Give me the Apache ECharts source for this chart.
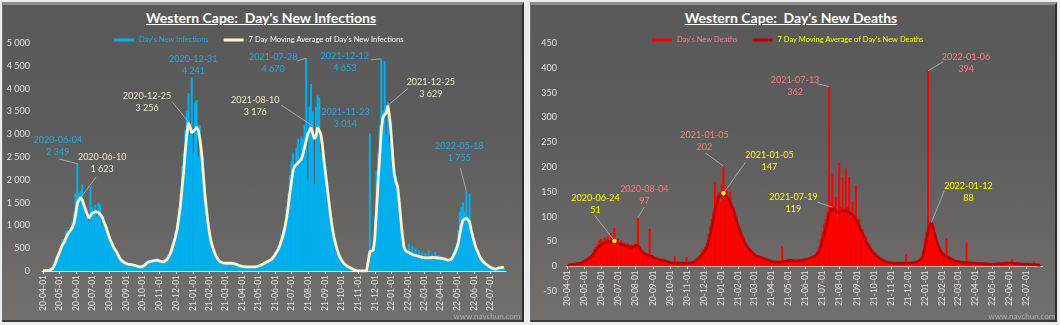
<!DOCTYPE html>
<html><head><meta charset="utf-8">
<script src="https://cdn.jsdelivr.net/npm/echarts@6/dist/echarts.min.js"></script>
<style>
html,body{margin:0;padding:0;width:1060px;height:325px;background:#ececec;overflow:hidden;font-family:Lato,sans-serif}
.panel{position:absolute;top:2px;height:320px;box-sizing:border-box;background:linear-gradient(#595959,#5c5c5c 40%,#736f6d);border-top:3px solid #8e8e8e;border-left:1px solid #707070;border-right:2px solid #2e2e2e;border-bottom:2px solid #383838}
.chart{position:absolute;top:2px;height:320px}
.title{position:absolute;top:9px;color:#fff;font:bold 14px Lato,sans-serif;text-decoration:underline;white-space:pre;text-align:center}
</style></head>
<body>
<div class="panel" style="left:2px;width:522px"></div>
<div class="panel" style="left:530px;width:527px"></div>
<div class="title" style="left:0;width:522px">Western Cape:  Day's New Infections</div>
<div class="title" style="left:530px;width:522px">Western Cape:  Day's New Deaths</div>
<div id="c1" class="chart" style="left:2px;width:522px"></div>
<div id="c2" class="chart" style="left:530px;width:527px"></div>
<script>
// ---------- data (sampled every 3 days from 2020-04-01) ----------
const START = [2020, 4, 1];
const STEP_DAYS = 3;
const X_MIN = '2020-04-01';
const X_MAX = '2022-07-28';

const infectionsDaily = [
15,20,10,25,30,40,120,200,300,350,
420,560,700,620,870,900,820,960,1100,1300,
1700,2349,1700,1750,1900,1500,1200,1300,1100,1850,
1400,1300,1450,1200,1500,1450,1000,1200,1050,900,
750,720,580,600,400,450,320,300,200,210,
170,180,140,160,130,150,110,130,90,110,
70,100,160,200,230,250,180,260,240,200,
280,220,190,230,200,260,300,380,450,600,
700,900,1050,1400,1700,2300,2600,3100,3500,3900,
3000,4241,2600,3700,3750,2500,3200,2300,2500,1800,
1400,1100,850,650,480,420,330,280,220,170,
200,160,190,180,150,200,160,190,140,150,
100,130,90,110,80,100,90,110,80,100,
90,120,100,150,130,180,200,220,240,260,
300,320,400,450,550,650,800,950,1100,1400,
1700,2100,2400,2600,2200,2700,2900,2500,2950,2900,
3200,4670,2000,3600,4100,3500,1900,3600,3850,3800,
2600,2900,2500,2300,1900,1600,1300,1000,800,640,
500,380,290,230,180,140,110,90,70,50,
20,0,0,0,0,0,0,0,0,0,
3014,500,480,1200,2200,2600,3200,4653,3500,4600,
3000,3700,2800,3300,2700,2000,2100,1700,1500,1000,
700,450,500,380,600,350,550,330,500,300,
450,290,420,280,400,270,450,280,380,290,
420,280,350,270,300,260,280,240,250,210,
300,400,500,620,900,1300,1400,1500,1300,1755,
1200,1690,900,800,650,520,440,350,280,230,
190,150,120,100,80,60,40,50,70,80,
70,90,80];

const infectionsMA = [
10,12,14,16,18,25,60,120,220,320,
400,500,580,630,720,800,850,900,960,1050,
1250,1480,1560,1610,1560,1450,1350,1250,1160,1200,
1260,1300,1300,1290,1280,1260,1200,1100,1020,920,
800,700,620,540,470,420,350,280,230,200,
180,160,150,145,140,130,125,115,100,95,
85,80,120,160,190,200,210,220,230,235,
240,230,210,200,200,220,260,320,390,500,
620,750,900,1150,1400,1800,2150,2600,3000,3250,
3150,3030,3050,3100,3160,3080,2900,2600,2150,1700,
1350,1050,800,620,500,400,320,260,210,190,
180,175,170,170,170,170,170,160,150,130,
120,110,100,95,90,90,90,90,90,90,
90,100,110,130,140,150,180,200,220,240,
260,300,360,400,480,570,680,800,950,1150,
1400,1700,1950,2200,2300,2330,2370,2400,2450,2550,
2700,2850,3000,3080,3150,3170,2900,2950,3150,3160,
3000,2750,2400,2100,1800,1500,1200,950,750,600,
470,360,280,220,170,130,110,90,70,50,
30,10,5,0,0,0,0,0,0,0,
430,440,450,700,1300,1950,2500,3100,3380,3420,
3470,3629,3400,3000,2500,2100,1950,1850,1500,1100,
750,500,440,420,400,380,360,350,340,330,
320,310,300,295,290,285,290,295,300,300,
295,290,285,285,280,270,260,250,235,220,
260,330,400,480,600,800,1000,1120,1160,1160,
1120,1080,900,750,620,500,420,330,270,220,
180,150,120,100,80,60,45,40,60,70,
75,80,80];

const deathsDaily = [
3,2,4,3,5,4,6,7,8,10,
12,15,16,20,22,28,35,40,45,52,
55,50,58,55,60,52,67,55,77,50,
55,48,52,45,48,44,46,40,44,36,
45,40,97,35,32,25,28,22,25,75,
18,20,14,18,12,15,10,14,10,12,
8,10,6,8,20,5,7,6,5,8,
6,18,5,7,8,9,12,15,18,22,
30,35,38,45,65,80,95,110,170,140,
150,130,165,202,150,160,130,150,110,120,
95,100,70,75,55,60,42,45,30,35,
25,28,20,22,18,20,15,17,12,14,
10,12,8,10,7,9,8,10,40,8,
11,10,14,11,12,9,12,10,13,10,
14,12,15,13,17,15,20,22,25,30,
38,55,70,85,95,110,362,130,187,120,
140,100,208,120,180,110,197,120,180,100,
130,95,163,85,95,70,75,55,60,40,
45,30,32,22,25,17,18,12,14,9,
10,7,8,6,7,5,6,5,7,6,
5,7,25,6,7,8,9,10,11,12,
14,15,30,55,70,394,90,85,75,60,
55,40,35,26,25,20,56,17,18,13,
14,10,12,9,10,8,9,8,48,7,
8,6,7,5,6,5,6,4,5,6,
4,5,4,5,4,6,4,5,6,5,
7,5,6,8,5,14,6,7,5,6,
4,5,4,6,4,5,3,4,10,3,
2,3,2];

const deathsMA = [
2,2,3,3,4,4,5,5,6,8,
10,12,14,16,18,22,27,32,36,40,
44,46,47,48,48,49,50,50,51,49,
47,45,44,43,42,41,40,39,38,38,
40,43,44,38,30,27,25,23,22,21,
20,18,16,15,14,13,12,12,11,10,
9,8,7,7,6,6,6,6,6,6,
6,6,6,6,7,8,10,12,15,18,
22,27,32,38,48,62,78,95,115,128,
138,143,145,147,145,140,137,130,120,113,
100,88,79,70,60,52,45,40,35,32,
28,25,22,20,19,18,17,16,14,13,
12,10,9,8,8,8,8,8,9,9,
10,11,12,12,11,10,10,10,11,11,
12,12,13,14,15,16,18,19,21,24,
30,40,52,62,75,90,105,115,119,115,
110,107,108,110,112,113,112,110,108,106,
103,100,95,88,80,72,66,58,50,44,
38,33,28,25,22,19,16,14,12,10,
9,8,7,7,6,6,6,6,6,6,
6,6,6,6,6,7,7,8,9,10,
11,12,20,35,52,70,82,88,80,65,
52,42,34,28,24,21,20,18,16,14,
12,11,10,9,9,8,8,7,7,7,
6,6,6,6,5,5,5,5,5,5,
5,4,4,4,4,4,5,5,5,5,
5,6,6,6,6,6,6,5,5,5,
5,4,4,4,4,4,3,3,3,3,
3,2,2];

// annotated values: [date, value, which series ('bar' or 'ma')]
const infectionNotes = [
  ['2020-06-04', 2349, 'bar'], ['2020-06-10', 1623, 'ma'],
  ['2020-12-31', 4241, 'bar'], ['2020-12-25', 3256, 'ma'],
  ['2021-07-28', 4670, 'bar'], ['2021-08-10', 3176, 'ma'],
  ['2021-12-12', 4653, 'bar'], ['2021-11-23', 3014, 'bar'],
  ['2021-12-25', 3629, 'ma'],  ['2022-05-18', 1755, 'bar']
];
const deathNotes = [
  ['2020-06-24', 51, 'ma'],  ['2020-08-04', 97, 'bar'],
  ['2021-01-05', 202, 'bar'], ['2021-01-05', 147, 'ma'],
  ['2021-07-13', 362, 'bar'], ['2021-07-19', 119, 'ma'],
  ['2022-01-06', 394, 'bar'], ['2022-01-12', 88, 'ma']
];

// ---------- layout / style (label offsets relative to point: lx,ly ; leader start sx,sy) ----------
const infectionNoteLayout = [
  [-20,-18,-19,-5], [21,-34,15,-20], [1,-13,null,null], [-42,-20,-17,-21],
  [-33,5,-9,3], [-58,-20,-32,-21], [-36,3,-10,1], [-25,-15,null,null],
  [43,-17,20,-17], [-7,-39,-6,-23]
];
const deathNoteLayout = [
  [-19,-37,-20,-26], [7,-23,7,-11], [-19,-25,-18,-13], [46,-32,22,-31],
  [-34,-1,-12,-3], [-39,-4,-15,-5], [38,-8,15,-9], [37,-30,13,-32]
];

const FONT = 'Lato';
function day(s){const p=s.split('-');return new Date(+p[0],+p[1]-1,+p[2]).getTime();}
function fmtNum(v){return String(v).replace(/\B(?=(\d{3})+(?!\d))/g,' ');}
const dates = infectionsDaily.map((_,i)=>new Date(START[0],START[1]-1,START[2]+STEP_DAYS*i).getTime());

function buildOption(cfg){
  const grid = Object.assign({containLabel:false, outerBoundsMode:'none'}, cfg.grid);
  // put the time axis (line, ticks and labels) on the zero level
  const zeroOffset = -cfg.grid.height * (0 - cfg.y.min) / (cfg.y.max - cfg.y.min);
  const negMin = cfg.y.min < 0;
  return {
    animation:false,
    backgroundColor:'transparent',
    textStyle:{fontFamily:FONT},
    legend:{
      top:cfg.legendTop, left:cfg.legendLeft, itemWidth:20, itemHeight:3, itemGap:15,
      selectedMode:false,
      textStyle:{fontSize:7.5, fontFamily:FONT},
      data:[
        {name:cfg.barName, icon:'rect', textStyle:{color:cfg.barText}},
        {name:cfg.maName, icon:'rect', textStyle:{color:cfg.maText}}
      ]
    },
    grid:grid,
    xAxis:{
      type:'time', min:day(X_MIN), max:day(X_MAX),
      splitNumber:30, minInterval:28*864e5, maxInterval:31*864e5,
      offset:zeroOffset,
      axisLine:{onZero:false, lineStyle:{color:'#e6e6e6', width:1}},
      axisTick:{show:true, length:3, lineStyle:{color:'#e6e6e6'}},
      axisLabel:{rotate:90, formatter:'{yy}-{MM}-{dd}', fontSize:8.5, color:'#e2e2e2', margin:4, hideOverlap:false, fontFamily:FONT},
      splitLine:{show:false}
    },
    yAxis:{
      type:'value', min:cfg.y.min, max:cfg.y.max, interval:cfg.y.interval,
      axisLine:{show:false}, axisTick:{show:false}, splitLine:{show:false},
      axisLabel:{fontSize:9, color:'#e2e2e2', margin:cfg.yMargin, fontFamily:FONT,
                 formatter:v => (negMin && v===cfg.y.min) ? '' : fmtNum(v),
                 showMinLabel:true, showMaxLabel:true, hideOverlap:false}
    },
    series:[
      {type:'bar', name:cfg.barName, data:dates.map((t,i)=>[t,cfg.daily[i]]), barWidth:2,
       itemStyle:{color:cfg.barColor}, z:2},
      {type:'line', name:cfg.maName, data:dates.map((t,i)=>[t,cfg.ma[i]]), showSymbol:false, symbol:'none',
       lineStyle:{width:2.8, color:cfg.maColor}, itemStyle:{color:cfg.maColor}, z:3}
    ]
  };
}

function addNotes(chart, cfg, notes, layout, colors, dots, markX){
  const g=[];
  notes.forEach((n,k)=>{
    const p=chart.convertToPixel({gridIndex:0},[day(n[0]),n[1]]);
    const L=layout[k];
    const col = n[2]==='bar'?colors.bar:colors.ma;
    if(L[2]!==null){
      g.push({type:'line', z:50, shape:{x1:p[0]+L[2],y1:p[1]+L[3],x2:p[0],y2:p[1]}, style:{stroke:'#a8a8a8',lineWidth:1}});
    }
    if(dots && n[2]==='ma' && k<4){
      g.push({type:'circle', z:55, shape:{cx:p[0],cy:p[1],r:2.2}, style:{fill:'#ffff00'}});
    }
    g.push({type:'text', z:60, x:p[0]+L[0], y:p[1]+L[1],
      style:{text:n[0]+'\n'+fmtNum(n[1]), fill:col, font:'9px '+FONT, align:'center', verticalAlign:'middle', lineHeight:12}});
  });
  // negative minimum tick label of the value axis (drawn here so it stays below the zero-level time axis)
  if(cfg.y.min < 0){
    const q=chart.convertToPixel({gridIndex:0},[day(X_MIN),cfg.y.min]);
    g.push({type:'text', z:60, x:cfg.grid.left-cfg.yMargin, y:q[1],
      style:{text:String(cfg.y.min), fill:'#e2e2e2', font:'9px '+FONT, align:'right', verticalAlign:'middle'}});
  }
  g.push({type:'text', z:60, x:markX, y:314, style:{text:'www.navchun.com', fill:'#a9a9a9', font:'8px '+FONT, align:'center', verticalAlign:'middle'}});
  chart.setOption({graphic:g});
}

const cfg1 = {
  barName:"Day's New Infections", maName:"7 Day Moving Average of Day's New Infections",
  barText:'#1eaaea', maText:'#ffffff', barColor:'#00b0f0', maColor:'#fff2cc',
  daily:infectionsDaily, ma:infectionsMA,
  legendTop:29, legendLeft:107,
  grid:{left:40, top:41, width:464, height:228},
  y:{min:0,max:5000,interval:500}, yMargin:12
};
const c1 = echarts.init(document.getElementById('c1'), null, {renderer:'canvas'});
c1.setOption(buildOption(cfg1));
addNotes(c1, cfg1, infectionNotes, infectionNoteLayout, {bar:'#22a9e6', ma:'#f3e6c4'}, false, 485);

const cfg2 = {
  barName:"Day's New Deaths", maName:"7 Day Moving Average of Day's New Deaths",
  barText:'#ff7c80', maText:'#ffff00', barColor:'#ff0000', maColor:'#c00000',
  daily:deathsDaily, ma:deathsMA,
  legendTop:29, legendLeft:117,
  grid:{left:36.5, top:41, width:476, height:248},
  y:{min:-50,max:450,interval:50}, yMargin:9.5
};
const c2 = echarts.init(document.getElementById('c2'), null, {renderer:'canvas'});
c2.setOption(buildOption(cfg2));
addNotes(c2, cfg2, deathNotes, deathNoteLayout, {bar:'#ff7c80', ma:'#ffff00'}, true, 492);
</script>
</body></html>
